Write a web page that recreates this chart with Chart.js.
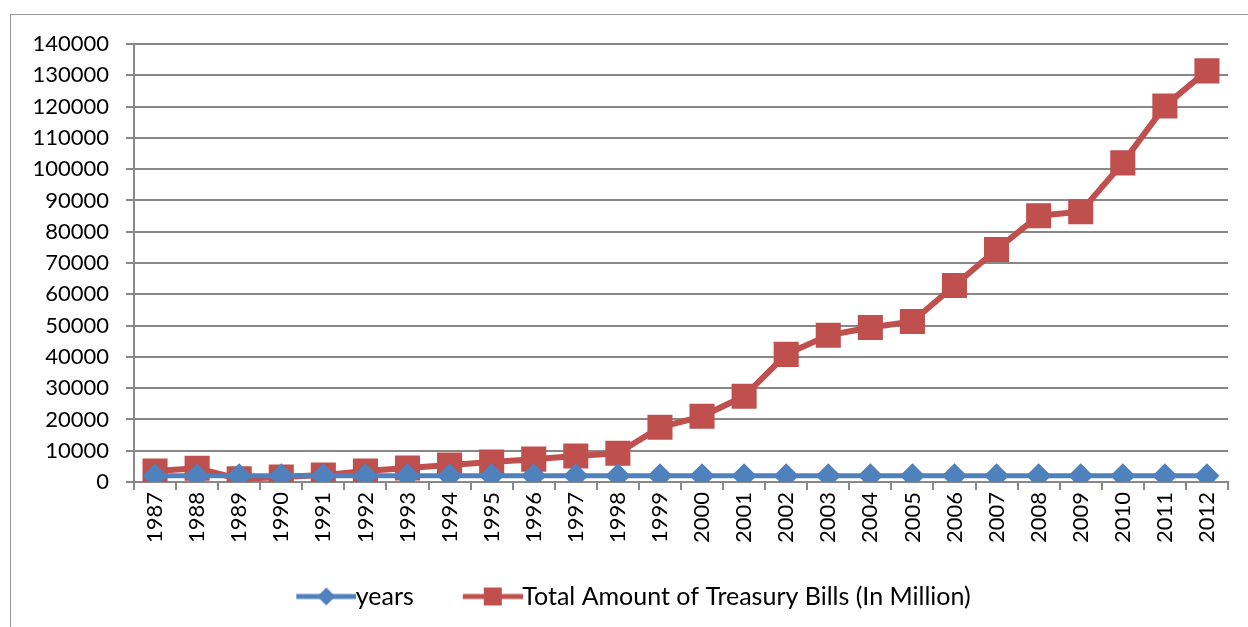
<!DOCTYPE html>
<html>
<head>
<meta charset="utf-8">
<script src="https://cdn.jsdelivr.net/npm/chart.js@4.4.1/dist/chart.umd.min.js"></script>
<style>
  html, body { margin: 0; padding: 0; background: #fff; }
  #wrap { width: 1248px; height: 627px; }
</style>
</head>
<body>
<div id="wrap"><canvas id="chart" width="1248" height="627"></canvas></div>
<script>
const years = [1987, 1988, 1989, 1990, 1991, 1992, 1993, 1994, 1995, 1996, 1997, 1998, 1999,
               2000, 2001, 2002, 2003, 2004, 2005, 2006, 2007, 2008, 2009, 2010, 2011, 2012];
const yearLabels = years.map(String);
const yearsSeries = years.slice();
const treasuryBills = [3500, 4400, 1000, 1600, 2200, 3500, 4500, 5400, 6400, 7300, 8300, 9200,
                       17500, 21000, 27400, 40800, 46900, 49400, 51300, 62800, 74300, 85100,
                       86400, 102000, 120200, 131400];
const yTicks = { min: 0, max: 140000, step: 10000 };

const BLUE = '#4F81BD';
const RED = '#C0504D';
const GRID = '#888888';
const FONT = 'Lato, "Liberation Sans", sans-serif';

// legend swatch: 60px line with the marker in the middle, drawn at the right of the image
function swatch(color, shape) {
    const c = document.createElement('canvas');
    c.width = 112; c.height = 24;
    const g = c.getContext('2d');
    g.strokeStyle = color; g.fillStyle = color;
    g.lineWidth = 5;
    g.beginPath(); g.moveTo(52, 12); g.lineTo(112, 12); g.stroke();
    if (shape === 'diamond') {
        g.beginPath();
        g.moveTo(82, 3); g.lineTo(91, 12); g.lineTo(82, 21); g.lineTo(73, 12);
        g.closePath(); g.fill();
    } else {
        g.fillRect(73, 3, 18, 18);
    }
    return c;
}

const frame = {
    id: 'frame',
    beforeDraw(chart) {
        const ctx = chart.ctx;
        ctx.save();
        ctx.strokeStyle = '#999';
        ctx.lineWidth = 1;
        ctx.strokeRect(10.5, 14.5, 1240, 640);
        ctx.restore();
    }
};

const ctx = document.getElementById('chart').getContext('2d');
new Chart(ctx, {
    type: 'line',
    data: {
        labels: yearLabels,
        datasets: [{
            label: 'years',
            data: yearsSeries,
            borderColor: BLUE,
            backgroundColor: BLUE,
            borderWidth: 5,
            pointStyle: 'rectRot',
            pointRadius: 9,
            pointHoverRadius: 9,
            tension: 0
        }, {
            label: 'Total Amount of Treasury Bills (In Million)',
            data: treasuryBills,
            borderColor: RED,
            backgroundColor: RED,
            borderWidth: 6,
            pointStyle: 'rect',
            pointRadius: 13.5,
            pointHoverRadius: 13.5,
            tension: 0
        }]
    },
    options: {
        responsive: false,
        animation: false,
        layout: { padding: { left: 0, right: 20, top: 44, bottom: 8 } },
        plugins: {
            tooltip: { enabled: false },
            legend: {
                position: 'bottom',
                labels: {
                    usePointStyle: true,
                    pointStyleWidth: 86,
                    boxHeight: 22,
                    padding: 10,
                    color: '#000',
                    font: { family: FONT, size: 25 },
                    generateLabels(chart) {
                        return chart.data.datasets.map((ds, i) => ({
                            text: ds.label,
                            fillStyle: ds.borderColor,
                            strokeStyle: ds.borderColor,
                            lineWidth: 0,
                            pointStyle: swatch(ds.borderColor, i === 0 ? 'diamond' : 'square'),
                            datasetIndex: i,
                            hidden: false
                        }));
                    }
                }
            }
        },
        scales: {
            x: {
                offset: true,
                grid: { display: true, drawOnChartArea: false, offset: true, color: GRID, lineWidth: 2, tickLength: 8 },
                border: { color: GRID, width: 2 },
                ticks: { color: '#000', font: { family: FONT, size: 22 }, minRotation: 90, maxRotation: 90, autoSkip: false, padding: 2 },
                afterFit(s) { s.height = 92; }
            },
            y: {
                min: yTicks.min,
                max: yTicks.max,
                ticks: {
                    stepSize: yTicks.step, color: '#000', font: { family: FONT, size: 22 }, padding: 17,
                    callback: v => String(v)
                },
                grid: { color: GRID, lineWidth: 2, tickLength: 8 },
                border: { color: GRID, width: 2 },
                afterFit(s) { s.width = 134; }
            }
        }
    },
    plugins: [frame]
});
</script>
</body>
</html>
